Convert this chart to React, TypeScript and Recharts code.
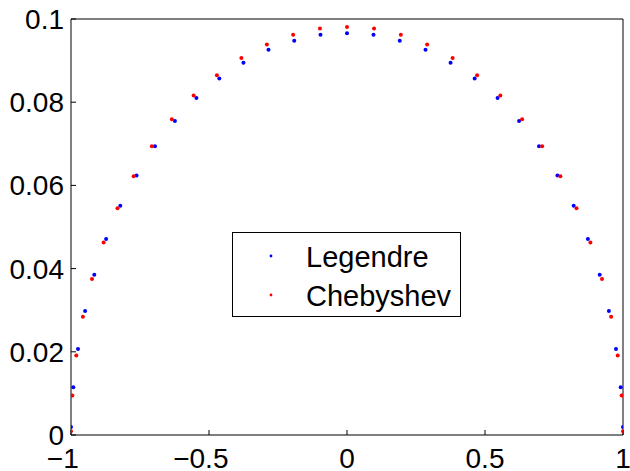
import React from 'react';
import { ScatterChart, Scatter, XAxis, YAxis, Legend } from 'recharts';

const legendreX = [-1, -0.9917, -0.9746, -0.9489, -0.9156, -0.8728, -0.8213, -0.7625, -0.6957, -0.6235, -0.5456, -0.4626, -0.3752, -0.2845, -0.1912, -0.0960, 0, 0.0960, 0.1912, 0.2845, 0.3752, 0.4626, 0.5456, 0.6235, 0.6957, 0.7625, 0.8213, 0.8728, 0.9156, 0.9489, 0.9746, 0.9917, 1];
const legendreY = [0.0019, 0.0115, 0.0207, 0.0298, 0.0385, 0.0471, 0.0551, 0.0624, 0.0694, 0.0755, 0.0810, 0.0857, 0.0895, 0.0926, 0.0948, 0.0962, 0.0966, 0.0962, 0.0948, 0.0926, 0.0895, 0.0857, 0.0810, 0.0755, 0.0694, 0.0624, 0.0551, 0.0471, 0.0385, 0.0298, 0.0207, 0.0115, 0.0019];
const chebyshevX = [-1, -0.9952, -0.9808, -0.9569, -0.9239, -0.8819, -0.8315, -0.7730, -0.7071, -0.6344, -0.5556, -0.4714, -0.3827, -0.2903, -0.1951, -0.0980, 0, 0.0980, 0.1951, 0.2903, 0.3827, 0.4714, 0.5556, 0.6344, 0.7071, 0.7730, 0.8315, 0.8819, 0.9239, 0.9569, 0.9808, 0.9952, 1];
const chebyshevY = [0.0009, 0.0095, 0.0191, 0.0284, 0.0375, 0.0463, 0.0545, 0.0622, 0.0694, 0.0759, 0.0816, 0.0865, 0.0906, 0.0939, 0.0962, 0.0977, 0.0981, 0.0977, 0.0962, 0.0939, 0.0906, 0.0865, 0.0816, 0.0759, 0.0694, 0.0622, 0.0545, 0.0463, 0.0375, 0.0284, 0.0191, 0.0095, 0.0009];

const xTicks = [-1, -0.5, 0, 0.5, 1];
const yTicks = [0, 0.02, 0.04, 0.06, 0.08, 0.1];
const seriesNames = ['Legendre', 'Chebyshev'];

const legendreData = legendreX.map((x, i) => ({ x, y: legendreY[i] }));
const chebyshevData = chebyshevX.map((x, i) => ({ x, y: chebyshevY[i] }));

const FONT = '"Liberation Sans", Arial, Helvetica, sans-serif';
const FS = 28;
const BLUE = '#0000ff';
const RED = '#ff0000';

const charW: Record<string, number> = { '.': 0.278 };
const textWidth = (s: string, fs: number) =>
  s.split('').reduce((a, c) => a + (charW[c] ?? 0.556) * fs, 0);

const fmtX = (v: number) => (v < 0 ? '\u2212' + String(Math.abs(v)) : String(v));

const XTick = (props: any) => {
  const { x, y, payload } = props;
  const s = fmtX(payload.value);
  const neg = s.startsWith('\u2212');
  const num = neg ? s.slice(1) : s;
  const w = textWidth(num, FS);
  return (
    <g>
      <text x={x} y={y} dy="0.71em" textAnchor="middle" fontFamily={FONT} fontSize={FS} fill="#000">
        {num}
      </text>
      {neg && (
        <text x={x - w / 2} y={y} dy="0.71em" textAnchor="end" fontFamily={FONT} fontSize={FS} fill="#000">
          {'\u2212'}
        </text>
      )}
    </g>
  );
};

const dot = (color: string) => (p: any) => <circle cx={p.cx} cy={p.cy} r={2} fill={color} />;

const LegendBox = () => (
  <svg width={229} height={85} style={{ display: 'block' }}>
    <rect x={0.5} y={0.5} width={228} height={84} fill="#fff" stroke="#000" strokeWidth={1} />
    <circle cx={39} cy={24} r={1.4} fill={BLUE} />
    <circle cx={39} cy={63} r={1.4} fill={RED} />
    <text x={74} y={35} fontFamily={FONT} fontSize={29} fill="#000">{seriesNames[0]}</text>
    <text x={74} y={74} fontFamily={FONT} fontSize={29} fill="#000">{seriesNames[1]}</text>
  </svg>
);

export default function App() {
  return (
    <div style={{ position: 'absolute', left: 0, top: 0, width: 630, height: 471, background: '#fff' }}>
      <ScatterChart width={630} height={471} margin={{ top: 18, right: 6, bottom: 35, left: 70 }}>
        <XAxis
          dataKey="x"
          type="number"
          domain={[-1, 1]}
          ticks={xTicks}
          interval={0}
          height={1}
          tickSize={-5}
          tickMargin={18}
          axisLine={{ stroke: '#000' }}
          tickLine={{ stroke: '#000' }}
          tick={<XTick />}
          allowDataOverflow
        />
        <XAxis
          xAxisId="top"
          orientation="top"
          type="number"
          domain={[-1, 1]}
          ticks={xTicks}
          interval={0}
          height={1}
          tickSize={-5}
          axisLine={{ stroke: '#000' }}
          tickLine={{ stroke: '#000' }}
          tick={false}
          allowDataOverflow
        />
        <YAxis
          dataKey="y"
          type="number"
          domain={[0, 0.1]}
          ticks={yTicks}
          interval={0}
          width={1}
          tickSize={-5}
          tickMargin={12}
          axisLine={{ stroke: '#000' }}
          tickLine={{ stroke: '#000' }}
          tick={{ fontFamily: FONT, fontSize: FS, fill: '#000' }}
          tickFormatter={(v: number) => String(v)}
          allowDataOverflow
        />
        <YAxis
          yAxisId="right"
          orientation="right"
          type="number"
          domain={[0, 0.1]}
          ticks={yTicks}
          interval={0}
          width={1}
          tickSize={-5}
          axisLine={{ stroke: '#000' }}
          tickLine={{ stroke: '#000' }}
          tick={false}
          allowDataOverflow
        />
        <Legend
          verticalAlign="middle"
          align="center"
          content={<LegendBox />}
          wrapperStyle={{ left: 232, top: 232, width: 229, height: 85 }}
        />
        <Scatter name={seriesNames[0]} data={legendreData} fill={BLUE} shape={dot(BLUE)} isAnimationActive={false} />
        <Scatter name={seriesNames[1]} data={chebyshevData} fill={RED} shape={dot(RED)} isAnimationActive={false} />
      </ScatterChart>
    </div>
  );
}
